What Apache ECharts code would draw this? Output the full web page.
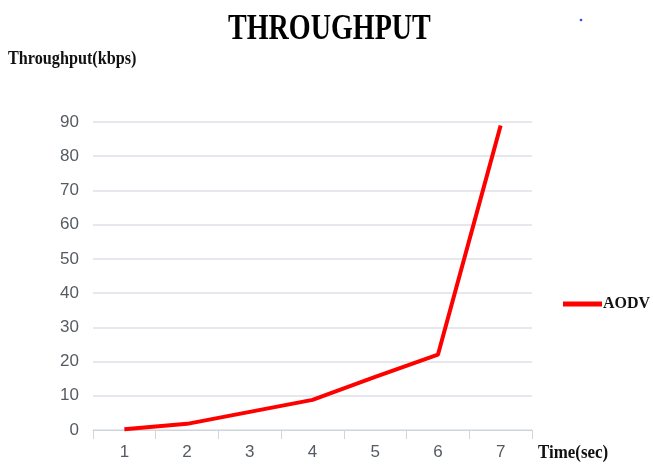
<!DOCTYPE html>
<html>
<head>
<meta charset="utf-8">
<script src="https://cdn.jsdelivr.net/npm/echarts@6/dist/echarts.min.js"></script>
<style>
  html, body { margin: 0; padding: 0; background: #fff; }
  #chart { width: 653px; height: 468px; }
</style>
</head>
<body>
<div id="chart"></div>
<script>
// Time steps (sec) and AODV throughput (kbps)
const timeSec = ['1', '2', '3', '4', '5', '6', '7'];
const aodvThroughput = [0.2, 1.8, 5.3, 8.8, 15.5, 22, 89];
const yTicks = { min: 0, max: 90, interval: 10 };

const chart = echarts.init(document.getElementById('chart'));

const serif = '"Liberation Serif", "DejaVu Serif", serif';
const axisFont = '"Liberation Sans Narrow", "Liberation Sans", sans-serif';

chart.setOption({
  animation: false,
  backgroundColor: '#ffffff',
  grid: { left: 93, right: 121, top: 122, bottom: 38 },
  legend: {
    data: ['AODV'],
    left: 558,
    top: 291,
    icon: 'rect',
    itemWidth: 39,
    itemHeight: 5,
    itemGap: 2,
    textStyle: { fontFamily: serif, fontWeight: 'bold', fontSize: 16, color: '#111', padding: [0, 0, 0, -4] }
  },
  xAxis: {
    type: 'category',
    data: timeSec,
    boundaryGap: true,
    axisLine: { lineStyle: { color: '#d0d5dc', width: 1 } },
    axisTick: { show: true, length: 9, lineStyle: { color: '#d0d5dc' } },
    axisLabel: { color: '#555b63', fontFamily: axisFont, fontSize: 17, margin: 14 },
    splitLine: { show: false }
  },
  yAxis: {
    type: 'value',
    min: yTicks.min,
    max: yTicks.max,
    interval: yTicks.interval,
    axisLine: { show: false },
    axisTick: { show: false },
    axisLabel: { color: '#555b63', fontFamily: axisFont, fontSize: 17, margin: 14 },
    splitLine: { lineStyle: { color: '#dde2e9', width: 1.5 } }
  },
  series: [{
    name: 'AODV',
    type: 'line',
    data: aodvThroughput,
    smooth: false,
    symbol: 'none',
    lineStyle: { color: '#ff0000', width: 4 },
    itemStyle: { color: '#ff0000' }
  }],
  graphic: [
    {
      type: 'text',
      left: 228, top: 12,
      style: { text: 'THROUGHPUT', font: 'bold 36px ' + serif, fill: '#000' },
      scaleX: 0.78
    },
    {
      type: 'text',
      left: 8, top: 50,
      style: { text: 'Throughput(kbps)', font: 'bold 18px ' + serif, fill: '#111' },
      scaleX: 0.9
    },
    {
      type: 'text',
      left: 538, top: 444,
      style: { text: 'Time(sec)', font: 'bold 18px ' + serif, fill: '#111' },
      scaleX: 0.94
    },
    {
      type: 'circle',
      shape: { cx: 581, cy: 20, r: 1.3 },
      style: { fill: '#3344ff' }
    }
  ]
});
</script>
</body>
</html>
